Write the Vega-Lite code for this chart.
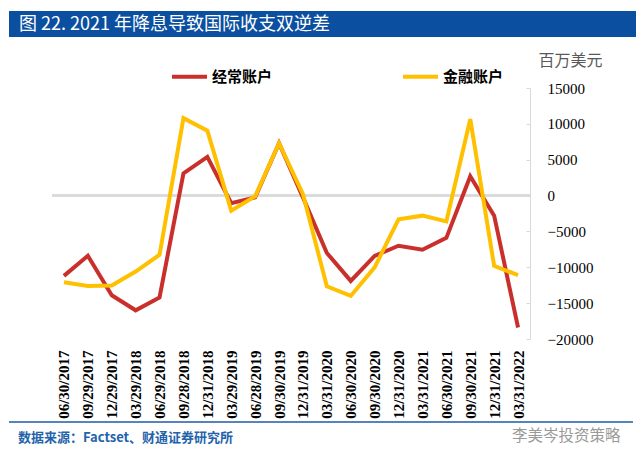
{
  "$schema": "https://vega.github.io/schema/vega-lite/v6.json",
  "autosize": {"type": "none"},
  "width": 478,
  "height": 251,
  "padding": {"left": 52, "top": 88, "right": 111, "bottom": 122},
  "background": "white",
  "config": {"view": {"stroke": null}},
  "datasets": {
    "main": [
      {"date": "06/30/2017", "series": "经常账户", "value": -11200},
      {"date": "09/29/2017", "series": "经常账户", "value": -8400},
      {"date": "12/29/2017", "series": "经常账户", "value": -13900},
      {"date": "03/29/2018", "series": "经常账户", "value": -16000},
      {"date": "06/29/2018", "series": "经常账户", "value": -14200},
      {"date": "09/28/2018", "series": "经常账户", "value": 3100},
      {"date": "12/31/2018", "series": "经常账户", "value": 5400},
      {"date": "03/29/2019", "series": "经常账户", "value": -1050},
      {"date": "06/28/2019", "series": "经常账户", "value": -250},
      {"date": "09/30/2019", "series": "经常账户", "value": 7300},
      {"date": "12/31/2019", "series": "经常账户", "value": -250},
      {"date": "03/31/2020", "series": "经常账户", "value": -8000},
      {"date": "06/30/2020", "series": "经常账户", "value": -11900},
      {"date": "09/30/2020", "series": "经常账户", "value": -8400},
      {"date": "12/31/2020", "series": "经常账户", "value": -7000},
      {"date": "03/31/2021", "series": "经常账户", "value": -7550},
      {"date": "06/30/2021", "series": "经常账户", "value": -5900},
      {"date": "09/30/2021", "series": "经常账户", "value": 2700},
      {"date": "12/31/2021", "series": "经常账户", "value": -2800},
      {"date": "03/31/2022", "series": "经常账户", "value": -18400},
      {"date": "06/30/2017", "series": "金融账户", "value": -12100},
      {"date": "09/29/2017", "series": "金融账户", "value": -12600},
      {"date": "12/29/2017", "series": "金融账户", "value": -12550},
      {"date": "03/29/2018", "series": "金融账户", "value": -10600},
      {"date": "06/29/2018", "series": "金融账户", "value": -8250},
      {"date": "09/28/2018", "series": "金融账户", "value": 10800},
      {"date": "12/31/2018", "series": "金融账户", "value": 9050},
      {"date": "03/29/2019", "series": "金融账户", "value": -2100},
      {"date": "06/28/2019", "series": "金融账户", "value": -100},
      {"date": "09/30/2019", "series": "金融账户", "value": 7300},
      {"date": "12/31/2019", "series": "金融账户", "value": 200},
      {"date": "03/31/2020", "series": "金融账户", "value": -12650},
      {"date": "06/30/2020", "series": "金融账户", "value": -14000},
      {"date": "09/30/2020", "series": "金融账户", "value": -10000},
      {"date": "12/31/2020", "series": "金融账户", "value": -3300},
      {"date": "03/31/2021", "series": "金融账户", "value": -2800},
      {"date": "06/30/2021", "series": "金融账户", "value": -3600},
      {"date": "09/30/2021", "series": "金融账户", "value": 10650},
      {"date": "12/31/2021", "series": "金融账户", "value": -9800},
      {"date": "03/31/2022", "series": "金融账户", "value": -11100}
    ]
  },
  "layer": [
    {
      "data": {"values": [{}]},
      "mark": {"type": "rect", "color": "#0b4fa0"},
      "encoding": {
        "x": {"value": -43}, "x2": {"value": 584},
        "y": {"value": -77}, "y2": {"value": -51}
      }
    },
    {
      "data": {"values": [{"t": "图 22. 2021 年降息导致国际收支双逆差"}]},
      "mark": {"type": "text", "align": "left", "baseline": "middle", "font": "Noto Sans CJK SC", "fontSize": 18, "color": "white"},
      "encoding": {"x": {"value": -33}, "y": {"value": -63}, "text": {"field": "t"}}
    },
    {
      "data": {"values": [{}]},
      "mark": {"type": "rule", "color": "#1f5aa6", "strokeWidth": 1.5},
      "encoding": {"x": {"value": -43}, "x2": {"value": 581}, "y": {"value": 334}}
    },
    {
      "data": {"values": [{"t": "数据来源：Factset、财通证券研究所"}]},
      "mark": {"type": "text", "align": "left", "baseline": "middle", "font": "Noto Sans CJK SC", "fontSize": 13, "fontWeight": "bold", "color": "#2463ab"},
      "encoding": {"x": {"value": -34}, "y": {"value": 350}, "text": {"field": "t"}}
    },
    {
      "data": {"values": [{"t": "李美岑投资策略"}]},
      "mark": {"type": "text", "align": "left", "baseline": "middle", "font": "Noto Sans CJK SC", "fontSize": 15.5, "color": "#9a9a9a"},
      "encoding": {"x": {"value": 460}, "y": {"value": 348}, "text": {"field": "t"}}
    },
    {
      "data": {"name": "main"},
      "layer": [
        {
          "mark": {"type": "rule", "color": "#d9d9d9", "strokeWidth": 1.5},
          "encoding": {"y": {"datum": 0, "type": "quantitative"}}
        },
        {
          "mark": {"type": "line", "strokeWidth": 4},
          "encoding": {
            "x": {
              "field": "date", "type": "nominal", "sort": null,
              "scale": {"type": "point", "padding": 0.5},
              "axis": {
                "title": null, "domain": false, "ticks": false,
                "labelAngle": 270, "labelAlign": "right", "labelBaseline": "middle",
                "labelFont": "Liberation Serif", "labelFontSize": 15, "labelFontWeight": "bold",
                "labelColor": "#000000", "labelPadding": 11
              }
            },
            "y": {"field": "value", "type": "quantitative"},
            "color": {
              "field": "series", "type": "nominal",
              "scale": {"domain": ["经常账户", "金融账户"], "range": ["#c9302c", "#ffc000"]},
              "legend": {
                "title": null, "orient": "none", "direction": "horizontal",
                "legendX": 118, "legendY": -31, "padding": 0,
                "symbolType": "stroke", "symbolSize": 1225, "symbolStrokeWidth": 4,
                "labelFont": "Noto Sans CJK SC", "labelFontSize": 15, "labelFontWeight": "bold",
                "labelColor": "#000000", "labelOffset": 3, "columnPadding": 122
              }
            }
          }
        }
      ],
      "encoding": {
        "y": {
          "type": "quantitative",
          "scale": {"domain": [-20000, 15000], "nice": false},
          "axis": {
            "orient": "right", "values": [-20000, -15000, -10000, -5000, 0, 5000, 10000, 15000],
            "format": "d", "labelOverlap": false, "labelFlush": false,
            "grid": false, "domainColor": "#d9d9d9", "domainWidth": 1,
            "tickColor": "#d9d9d9", "tickSize": -4, "tickWidth": 1,
            "labelFont": "Liberation Serif", "labelFontSize": 15, "labelColor": "#000000",
            "labelPadding": 21, "labelAlign": "left", "labelBaseline": "middle",
            "title": "百万美元", "titleAngle": 0, "titleAlign": "left", "titleBaseline": "middle",
            "titleX": 8, "titleY": -28, "titleFont": "Noto Sans CJK SC", "titleFontSize": 16,
            "titleFontWeight": "normal", "titleColor": "#595959"
          }
        }
      }
    }
  ]
}
